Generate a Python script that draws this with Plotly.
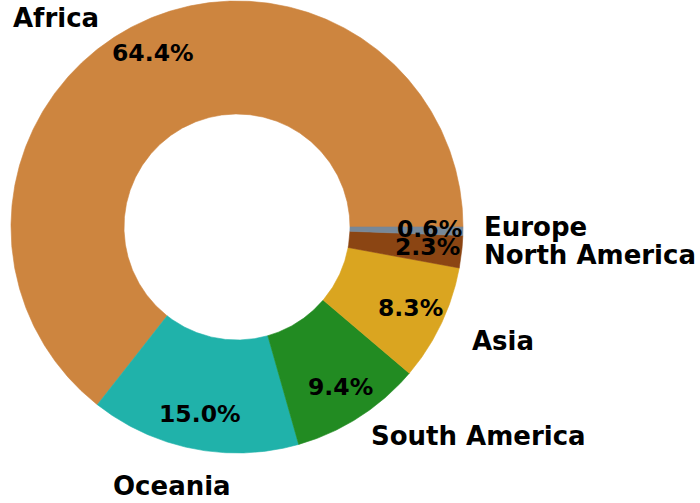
import numpy as np
import plotly.graph_objects as go

# ---- data ----
regions = ["Africa", "Oceania", "South America", "Asia", "North America", "Europe"]
shares = [64.4, 15.0, 9.4, 8.3, 2.3, 0.6]
colors = ["#CD853F", "#20B2AA", "#228B22", "#DAA520", "#8B4513", "#778899"]

# ---- layout constants (units of outer radius) ----
R_OUT = 1.0
R_IN = 0.5
PCT_DIST = 0.85
START_DEG = 0.0  # counter-clockwise from 3 o'clock
CX_PX, CY_PX, R_PX = 237.0, 227.0, 226.0
W, H = 700, 503

# label anchors (x, y, xanchor) in radius units, hand-placed like the reference
label_pos = {
    "Africa": (-0.602, 0.926, "right"),
    "Europe": (1.084, 0.0, "left"),
    "North America": (1.084, -0.122, "left"),
    "Asia": (1.029, -0.504, "left"),
    "South America": (0.584, -0.925, "left"),
    "Oceania": (-0.288, -1.146, "center"),
}

fig = go.Figure()

total = float(sum(shares))
cum = START_DEG
annotations = []
for name, val, col in zip(regions, shares, colors):
    span = 360.0 * val / total
    a0, a1 = cum, cum + span
    n = max(8, int(span * 2))
    th = np.radians(np.linspace(a0, a1, n))
    xs = np.concatenate([R_OUT * np.cos(th), R_IN * np.cos(th[::-1])])
    ys = np.concatenate([R_OUT * np.sin(th), R_IN * np.sin(th[::-1])])
    xs = np.append(xs, xs[0])
    ys = np.append(ys, ys[0])
    fig.add_trace(go.Scatter(
        x=xs, y=ys, mode="lines", fill="toself", fillcolor=col,
        line=dict(color=col, width=0.6), hoverinfo="skip", showlegend=False,
    ))
    mid = np.radians((a0 + a1) / 2)
    annotations.append(dict(
        x=PCT_DIST * np.cos(mid), y=PCT_DIST * np.sin(mid) + 0.006,
        text=f"{val / total * 100:.1f}%", showarrow=False,
        xanchor="center", yanchor="middle",
        font=dict(family="DejaVu Sans", size=23.5, color="black", weight="bold"),
    ))
    cum = a1

for name in regions:
    lx, ly, xa = label_pos[name]
    annotations.append(dict(
        x=lx, y=ly, text=name, showarrow=False, xanchor=xa, yanchor="middle",
        font=dict(family="DejaVu Sans", size=26, color="black", weight="bold"),
    ))

x_range = [-CX_PX / R_PX, (W - CX_PX) / R_PX]
y_range = [-(H - CY_PX) / R_PX, CY_PX / R_PX]

fig.update_layout(
    width=W, height=H,
    margin=dict(l=0, r=0, t=0, b=0),
    paper_bgcolor="white", plot_bgcolor="white",
    xaxis=dict(range=x_range, visible=False, fixedrange=True),
    yaxis=dict(range=y_range, visible=False, fixedrange=True),
    annotations=annotations,
    showlegend=False,
)

fig.write_html(
    "out.html",
    config={"displayModeBar": False},
    post_script="document.body.style.margin='0';document.body.style.padding='0';document.body.style.overflow='hidden';",
)
